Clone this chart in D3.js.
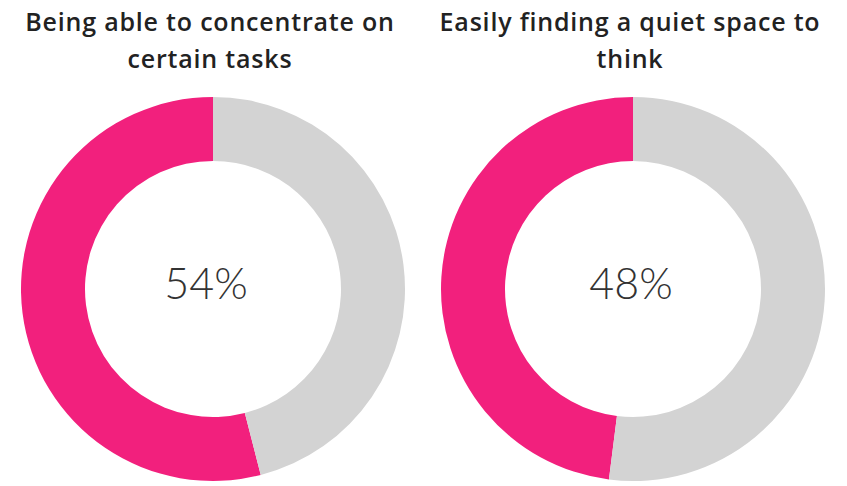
<!DOCTYPE html>
<html>
<head>
<meta charset="utf-8">
<script src="https://cdn.jsdelivr.net/npm/d3@7"></script>
<style>
  html, body { margin: 0; padding: 0; background: #fff; }
  svg { display: block; }
</style>
</head>
<body>
<svg id="chart" width="847" height="486"></svg>
<script>
const titles = [
  ["Being able to concentrate on", "certain tasks"],
  ["Easily finding a quiet space to", "think"]
];
const values = [54, 48];
const labels = ["54%", "48%"];
const colors = ["#F2207D", "#D3D3D3"];

const svg = d3.select("#chart");
const centersX = d3.scaleOrdinal().domain([0, 1]).range([213, 633]);
const labelShift = [-7, -2];
const cy = 289;
const outerR = 192, innerR = 128;

const pie = d3.pie().sort(null).value(d => d)
  .startAngle(0).endAngle(-2 * Math.PI);
const arc = d3.arc().innerRadius(innerR).outerRadius(outerR);

values.forEach((v, i) => {
  const g = svg.append("g").attr("transform", `translate(${centersX(i)},${cy})`);
  g.selectAll("path").data(pie([v, 100 - v])).join("path")
    .attr("d", arc)
    .attr("fill", (d, j) => colors[j]);
  g.append("text")
    .attr("text-anchor", "middle")
    .attr("x", labelShift[i])
    .attr("y", 10)
    .attr("font-family", "Lato, 'Open Sans', sans-serif")
    .attr("font-weight", 300)
    .attr("font-size", 43)
    .attr("fill", "#333")
    .text(labels[i]);
  const t = svg.append("text")
    .attr("text-anchor", "middle")
    .attr("font-family", "'Open Sans', sans-serif")
    .attr("font-weight", 600)
    .attr("font-size", 25)
    .attr("letter-spacing", 0.8)
    .attr("fill", "#222");
  titles[i].forEach((line, k) => {
    t.append("tspan").attr("x", centersX(i) - 3).attr("y", 31 + k * 37).text(line);
  });
});
</script>
</body>
</html>
